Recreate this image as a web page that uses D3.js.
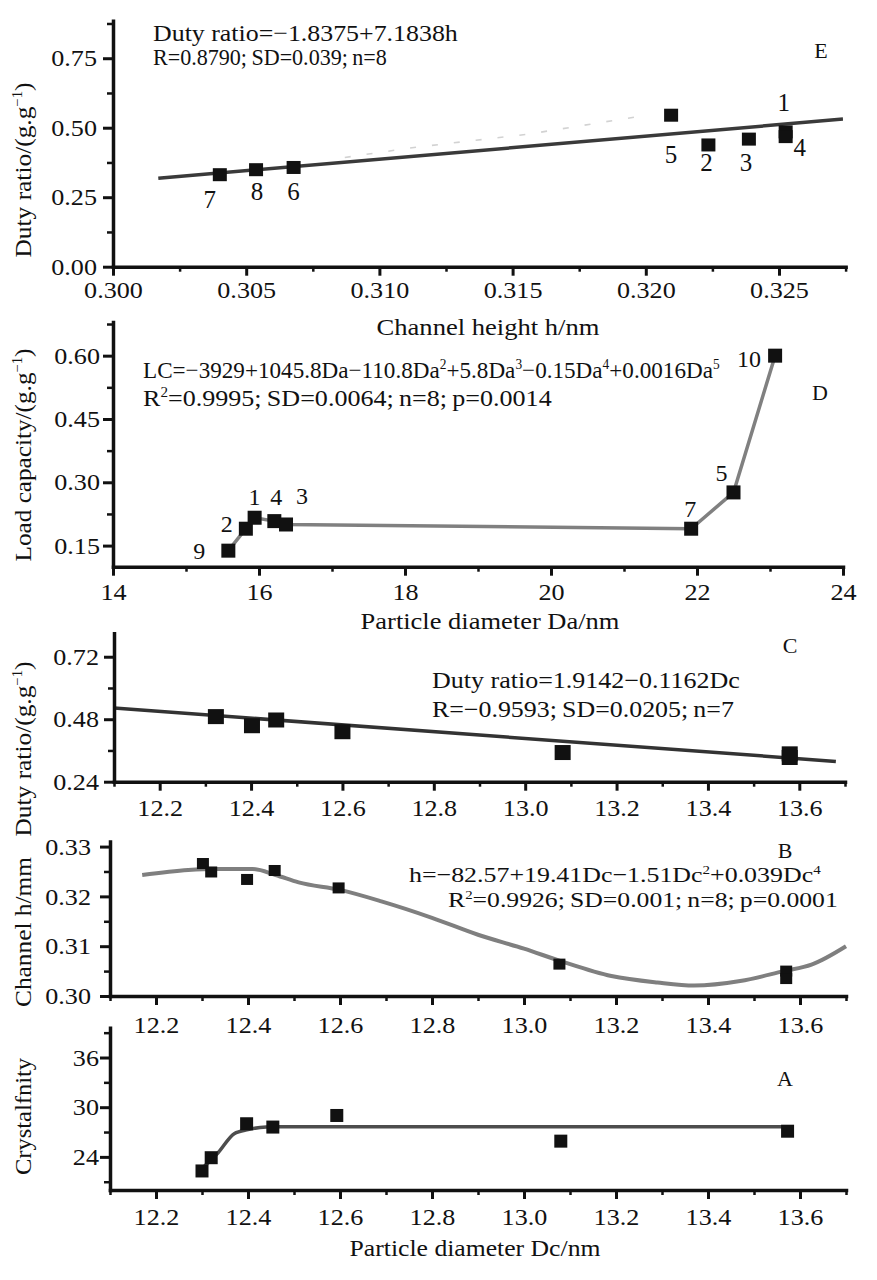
<!DOCTYPE html>
<html><head><meta charset="utf-8">
<script src="https://cdn.jsdelivr.net/npm/d3@7"></script>
<style>
body{margin:0;background:#fff}
svg{display:block}
text{font-family:"Liberation Serif","Times New Roman",serif;fill:#111}
</style>
</head><body>
<svg id="c" width="877" height="1280"></svg>
<script>
// ---------------- DATA ----------------
// Panel E : duty ratio vs channel height
const eLabels = ["1","2","3","4","5","6","7","8"];
const eH      = [0.32525, 0.32235, 0.32387, 0.32525, 0.32095, 0.30678, 0.30401, 0.30537];
const eDuty   = [0.485, 0.438, 0.459, 0.468, 0.545, 0.357, 0.331, 0.349];
const eFitH   = [0.3017, 0.3274];
const eFitDuty= [0.318, 0.531];
const eTrendH    = [0.3087, 0.3113, 0.3156, 0.3197];
const eTrendDuty = [0.393, 0.429, 0.477, 0.540];
const eXTicks = [0.300, 0.305, 0.310, 0.315, 0.320, 0.325];
const eXMinor = [0.3025, 0.3075, 0.3125, 0.3175, 0.3225, 0.3275];
const eYTicks = [0.00, 0.25, 0.50, 0.75];
const eYMinor = [0.125, 0.375, 0.625, 0.875];

// Panel D : load capacity vs particle diameter Da
const dLabels = ["9","2","1","4","3","7","5","10"];
const dDa     = [15.58, 15.82, 15.94, 16.21, 16.37, 21.92, 22.50, 23.07];
const dLC     = [0.138, 0.190, 0.216, 0.208, 0.200, 0.190, 0.276, 0.600];
const dXTicks = [14, 16, 18, 20, 22, 24];
const dXMinor = [15, 17, 19, 21, 23];
const dYTicks = [0.15, 0.30, 0.45, 0.60];
const dYMinor = [0.225, 0.375, 0.525, 0.675];

// Panel C : duty ratio vs particle diameter Dc
const cDc   = [12.323, 12.402, 12.455, 12.600, 13.082, 13.579, 13.579];
const cDuty = [0.490, 0.455, 0.477, 0.432, 0.352, 0.347, 0.333];
const cFitDc   = [12.10, 13.68];
const cFitDuty = [0.523, 0.318];
const cYTicks = [0.24, 0.48, 0.72];
const cYMinor = [0.36, 0.60];

// Panel B : channel height vs Dc
const bDc = [12.302, 12.320, 12.398, 12.458, 12.597, 13.077, 13.570, 13.570];
const bH  = [0.3266, 0.3249, 0.3234, 0.3252, 0.3217, 0.3064, 0.3050, 0.3035];
const bCurveDc = [12.17, 12.27, 12.33, 12.41, 12.46, 12.51, 12.60, 12.69, 12.80, 12.90, 13.00, 13.08, 13.19, 13.29, 13.37, 13.47, 13.565, 13.625, 13.70];
const bCurveH  = [0.3243, 0.3253, 0.3255, 0.3255, 0.3243, 0.3228, 0.3213, 0.3190, 0.3157, 0.3123, 0.3095, 0.3070, 0.3040, 0.3027, 0.3021, 0.3030, 0.3050, 0.3063, 0.3100];
const bYTicks = [0.30, 0.31, 0.32, 0.33];
const bYMinor = [0.305, 0.315, 0.325];

// Panel A : crystallinity vs Dc
const aDc  = [12.300, 12.320, 12.397, 12.454, 12.593, 13.080, 13.573];
const aCry = [22.3, 23.9, 28.0, 27.6, 29.0, 25.9, 27.1];
const aCurveDc  = [12.30, 12.335, 12.37, 12.40, 12.44, 12.47, 13.58];
const aCurveCry = [22.6, 24.5, 26.8, 27.3, 27.6, 27.65, 27.65];
const aYTicks = [24, 30, 36];
const aYMinor = [21, 27, 33, 39];

// Shared Dc axis
const dcTicks = [12.2, 12.4, 12.6, 12.8, 13.0, 13.2, 13.4, 13.6];
const dcMinor = [12.1, 12.3, 12.5, 12.7, 12.9, 13.1, 13.3, 13.5, 13.7];

// ---------------- HELPERS ----------------
const svg = d3.select("#c");
const SX = 1.09;
const FONT = "Liberation Serif, Times New Roman, serif";

function stretch(sel, k) {
  sel.each(function () {
    const t = d3.select(this);
    const x = +(t.attr("x") || 0);
    t.attr("transform", `translate(${x},0) scale(${k},1) translate(${-x},0)`);
  });
}

function addText(o) {
  const size = o.size || 24;
  const g = svg.append("g").attr("transform", `translate(${o.x},${o.y}) rotate(${o.rotate || 0})`);
  const inner = g.append("g");
  const t = inner.append("text").attr("font-size", size).attr("text-anchor", o.anchor || "start");
  const parts = typeof o.parts === "string" ? [o.parts] : o.parts;
  let prevSup = false;
  const sh = 0.36 * size;
  parts.forEach(p => {
    if (typeof p === "string") {
      const ts = t.append("tspan").text(p);
      if (prevSup) ts.attr("dy", sh);
      prevSup = false;
    } else {
      const ts = t.append("tspan").text(p.sup).attr("font-size", size * 0.58);
      ts.attr("dy", prevSup ? 0 : -sh);
      prevSup = true;
    }
  });
  if (o.width) {
    const w = t.node().getComputedTextLength();
    inner.attr("transform", `scale(${o.width / w},1)`);
  }
  return t;
}

function axes(x, y, o) {
  const yb = y.range()[0], xl = x.range()[0];
  const gx = svg.append("g").attr("transform", `translate(0,${yb})`)
    .call(d3.axisBottom(x).tickValues(o.xTicks).tickFormat(o.xFmt).tickSize(9).tickPadding(o.xPad).tickSizeOuter(0));
  svg.append("g").attr("transform", `translate(0,${yb})`)
    .call(d3.axisBottom(x).tickValues(o.xMinor).tickFormat("").tickSize(5).tickSizeOuter(0))
    .call(g => g.select(".domain").remove())
    .selectAll("line").attr("stroke-width", 2.5).attr("stroke", "#111");
  const gy = svg.append("g").attr("transform", `translate(${xl},0)`)
    .call(d3.axisLeft(y).tickValues(o.yTicks).tickFormat(o.yFmt).tickSize(10).tickPadding(o.yPad).tickSizeOuter(0));
  svg.append("g").attr("transform", `translate(${xl},0)`)
    .call(d3.axisLeft(y).tickValues(o.yMinor).tickFormat("").tickSize(6).tickSizeOuter(0))
    .call(g => g.select(".domain").remove())
    .selectAll("line").attr("stroke-width", 2.5).attr("stroke", "#111");
  [gx, gy].forEach(g => {
    g.attr("font-size", 24).attr("font-family", FONT);
    g.select(".domain").attr("stroke", "#111").attr("stroke-width", 3.5).attr("stroke-linecap", "square");
    g.selectAll(".tick line").attr("stroke", "#111").attr("stroke-width", 3);
    g.selectAll(".tick text").attr("fill", "#111");
    stretch(g.selectAll(".tick text"), SX);
  });
}

function squares(x, y, xs, ys, w, h) {
  svg.append("g").selectAll("rect").data(xs.map((v, i) => [v, ys[i]])).join("rect")
    .attr("x", d => x(d[0]) - w / 2).attr("y", d => y(d[1]) - h / 2)
    .attr("width", w).attr("height", h).attr("fill", "#111");
}

function line(x, y, xs, ys, color, width, curve, dash) {
  const p = svg.append("path")
    .datum(xs.map((v, i) => [v, ys[i]]))
    .attr("fill", "none").attr("stroke", color).attr("stroke-width", width)
    .attr("stroke-linejoin", "round")
    .attr("d", d3.line().x(d => x(d[0])).y(d => y(d[1])).curve(curve || d3.curveLinear));
  if (dash) p.attr("stroke-dasharray", dash);
}

function pointLabels(x, y, xs, ys, labels, offs, size) {
  labels.forEach((l, i) => {
    svg.append("text").attr("x", x(xs[i]) + offs[i][0]).attr("y", y(ys[i]) + offs[i][1])
      .attr("text-anchor", "middle").attr("font-size", size).text(l);
  });
}

const sup = s => ({ sup: s });

// ---------------- PANEL E ----------------
{
  const x = d3.scaleLinear().domain([0.300, 0.3275]).range([113, 845.6]);
  const y = d3.scaleLinear().domain([0, 0.885]).range([266.7, 20.7]);
  line(x, y, eTrendH, eTrendDuty, "#d2d2d2", 1.6, d3.curveLinear, "6,16");
  line(x, y, eFitH, eFitDuty, "#3a3a3a", 3.5);
  squares(x, y, eH, eDuty, 14, 13);
  axes(x, y, { xTicks: eXTicks, xMinor: eXMinor, xFmt: d3.format(".3f"), xPad: 5,
               yTicks: eYTicks, yMinor: eYMinor, yFmt: d3.format(".2f"), yPad: 6 });
  const offE = [[-2, -21], [-2, 26], [-3, 32], [14, 19], [0, 48], [0, 33], [-10, 33], [1, 30]];
  pointLabels(x, y, eH, eDuty, eLabels, offE, 25);
  addText({ x: 153, y: 41, parts: "Duty ratio=−1.8375+7.1838h", width: 305 });
  addText({ x: 153, y: 65, parts: "R=0.8790;\u2009SD=0.039;\u2009n=8", width: 234 });
  addText({ x: 821, y: 58, anchor: "middle", size: 22, parts: "E" });
  addText({ x: 31, y: 170, rotate: -90, anchor: "middle", parts: ["Duty ratio/(g.g", sup("−1"), ")"], width: 175 });
  addText({ x: 488, y: 335, anchor: "middle", parts: "Channel height h/nm", width: 223 });
}

// ---------------- PANEL D ----------------
{
  const x = d3.scaleLinear().domain([14, 24]).range([113, 843]);
  const y = d3.scaleLinear().domain([0.10, 0.68]).range([566.7, 321.9]);
  line(x, y, dDa, dLC, "#808080", 3.5);
  squares(x, y, dDa, dLC, 14, 14);
  axes(x, y, { xTicks: dXTicks, xMinor: dXMinor, xFmt: d3.format("d"), xPad: 7,
               yTicks: dYTicks, yMinor: dYMinor, yFmt: d3.format(".2f"), yPad: 3 });
  const offD = [[-29, 8], [-19, 3], [0, -13], [2, -16], [16, -20], [-1, -12], [-12, -11], [-26, 11]];
  pointLabels(x, y, dDa, dLC, dLabels, offD, 24);
  addText({ x: 143, y: 378, parts: ["LC=−3929+1045.8Da−110.8Da", sup("2"), "+5.8Da", sup("3"), "−0.15Da", sup("4"), "+0.0016Da", sup("5")], width: 577 });
  addText({ x: 143, y: 406, parts: ["R", sup("2"), "=0.9995;\u2009SD=0.0064;\u2009n=8;\u2009p=0.0014"], width: 409 });
  addText({ x: 820, y: 400, anchor: "middle", size: 22, parts: "D" });
  addText({ x: 31, y: 455, rotate: -90, anchor: "middle", parts: ["Load capacity/(g.g", sup("−1"), ")"], width: 213 });
  addText({ x: 490, y: 629, anchor: "middle", parts: "Particle diameter Da/nm", width: 259 });
}

// ---------------- PANEL C ----------------
{
  const x = d3.scaleLinear().domain([12.1, 13.7]).range([114, 845]);
  const y = d3.scaleLinear().domain([0.24, 0.81]).range([781.7, 633.3]);
  line(x, y, cFitDc, cFitDuty, "#333", 3.5);
  squares(x, y, cDc, cDuty, 16, 15);
  axes(x, y, { xTicks: dcTicks, xMinor: dcMinor, xFmt: d3.format(".1f"), xPad: 8,
               yTicks: cYTicks, yMinor: cYMinor, yFmt: d3.format(".2f"), yPad: 5 });
  addText({ x: 432, y: 688, size: 23, parts: "Duty ratio=1.9142−0.1162Dc", width: 308 });
  addText({ x: 432, y: 717, size: 23, parts: "R=−0.9593;\u2009SD=0.0205;\u2009n=7", width: 302 });
  addText({ x: 790, y: 653, anchor: "middle", size: 22, parts: "C" });
  addText({ x: 31, y: 749, rotate: -90, anchor: "middle", parts: ["Duty ratio/(g.g", sup("−1"), ")"], width: 175 });
}

// ---------------- PANEL B ----------------
{
  const x = d3.scaleLinear().domain([12.1, 13.7]).range([110, 846]);
  const y = d3.scaleLinear().domain([0.30, 0.331]).range([996, 841.6]);
  line(x, y, bCurveDc, bCurveH, "#7f7f7f", 4, d3.curveMonotoneX);
  squares(x, y, bDc, bH, 12, 11);
  axes(x, y, { xTicks: dcTicks, xMinor: dcMinor, xFmt: d3.format(".1f"), xPad: 11,
               yTicks: bYTicks, yMinor: bYMinor, yFmt: d3.format(".2f"), yPad: 9 });
  addText({ x: 409, y: 882, size: 22, parts: ["h=−82.57+19.41Dc−1.51Dc", sup("2"), "+0.039Dc", sup("4")], width: 412 });
  addText({ x: 448, y: 907, size: 22, parts: ["R", sup("2"), "=0.9926;\u2009SD=0.001;\u2009n=8;\u2009p=0.0001"], width: 390 });
  addText({ x: 785, y: 858, anchor: "middle", size: 22, parts: "B" });
  addText({ x: 31, y: 932, rotate: -90, anchor: "middle", parts: "Channel h/mm", width: 150 });
}

// ---------------- PANEL A ----------------
{
  const x = d3.scaleLinear().domain([12.1, 13.7]).range([110, 846]);
  const y = d3.scaleLinear().domain([20, 39.6]).range([1190, 1027.7]);
  line(x, y, aCurveDc, aCurveCry, "#4d4d4d", 3.5, d3.curveMonotoneX);
  squares(x, y, aDc, aCry, 13, 13);
  axes(x, y, { xTicks: dcTicks, xMinor: dcMinor, xFmt: d3.format(".1f"), xPad: 9,
               yTicks: aYTicks, yMinor: aYMinor, yFmt: d3.format("d"), yPad: 1 });
  addText({ x: 785, y: 1086, anchor: "middle", size: 22, parts: "A" });
  addText({ x: 31, y: 1116.5, rotate: -90, anchor: "middle", parts: "Crystalfnity", width: 117 });
  addText({ x: 475, y: 1256, anchor: "middle", parts: "Particle diameter Dc/nm", width: 251 });
}
</script>
</body></html>
